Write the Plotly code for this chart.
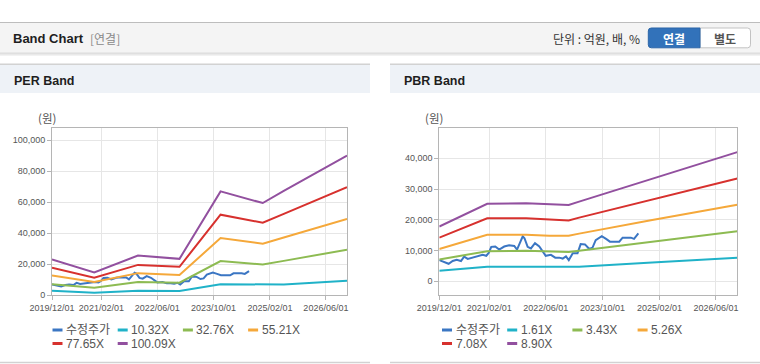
import plotly.graph_objects as go

W, H = 760, 364

# ---------------- data ----------------
price_name = "수정주가"
price_dates = [
    "2019-12-01", "2020-01-13", "2020-02-19", "2020-03-25", "2020-04-28", "2020-06-04",
    "2020-07-01", "2020-08-01", "2020-09-13", "2020-10-25", "2020-12-07", "2021-01-07",
    "2021-01-28", "2021-02-19", "2021-03-25", "2021-04-28", "2021-06-10", "2021-07-22",
    "2021-09-04", "2021-09-28", "2021-10-22", "2021-11-16", "2021-12-01", "2021-12-28",
    "2022-01-25", "2022-03-01", "2022-04-07", "2022-05-04", "2022-06-01", "2022-07-16",
    "2022-08-22", "2022-09-25", "2022-10-25", "2022-11-22", "2022-12-16", "2023-01-19",
    "2023-03-01", "2023-03-28", "2023-05-04", "2023-06-10", "2023-07-07", "2023-08-04",
    "2023-09-25", "2023-11-01", "2023-12-04", "2024-02-22", "2024-03-22", "2024-06-01",
    "2024-06-28", "2024-08-04",
]
price_values = [
    6900, 6200, 5700, 6600, 7000, 6600,
    8000, 7300, 7700, 8100, 8600, 8300,
    9200, 11200, 11300, 10300, 11300, 11700,
    11500, 10300, 12400, 14600, 14000, 11200,
    10700, 12400, 11300, 9900, 8300, 8600,
    7700, 7700, 7400, 8100, 6900, 9100,
    9100, 12100, 12000, 10500, 10900, 13400,
    14700, 13800, 12900, 12900, 14200, 14200,
    13800, 15600,
]

per_names = ["10.32X", "32.76X", "55.21X", "77.65X", "100.09X"]
per_dates = ["2019-12-01", "2020-12-01", "2021-12-15", "2022-12-10",
             "2023-12-01", "2024-12-01", "2025-06-01", "2026-12-01"]
per_10 = [3000, 1700, 2900, 2800, 7100, 6800, 7000, 9400]
per_32 = [7100, 4900, 8600, 8100, 22100, 19800, 22200, 29400]
per_55 = [12700, 8600, 14300, 13100, 36900, 33300, 37300, 49300]
per_77 = [17800, 11300, 19600, 18400, 52000, 46800, 52500, 69700]
per_100 = [23100, 14700, 25600, 23500, 67000, 59500, 67300, 90100]

pbr_names = ["1.61X", "3.43X", "5.26X", "7.08X", "8.90X"]
pbr_dates = ["2019-12-01", "2021-01-15", "2021-12-15", "2022-07-01",
             "2022-12-15", "2023-03-15", "2024-12-01", "2026-12-01"]
pbr_161 = [3400, 4700, 4700, 4700, 4700, 4750, 6100, 7700]
pbr_343 = [7100, 9800, 9900, 9600, 9500, 9900, 12800, 16300]
pbr_526 = [10500, 15100, 15100, 14800, 14800, 15500, 19900, 24900]
pbr_708 = [14200, 20500, 20500, 20100, 19800, 20700, 26600, 33400]
pbr_890 = [17800, 25200, 25400, 25000, 24800, 25900, 33300, 42000]

x_tickvals = ["2019-12-01", "2021-02-01", "2022-06-01", "2023-10-01", "2025-02-01", "2026-06-01"]
x_ticktext = ["2019/12/01", "2021/02/01", "2022/06/01", "2023/10/01", "2025/02/01", "2026/06/01"]
per_yticks = [0, 20000, 40000, 60000, 80000, 100000]
pbr_yticks = [0, 10000, 20000, 30000, 40000]

# ---------------- styles ----------------
price_color = "#3b76c3"
band_colors = ["#20b2c8", "#8dbb52", "#f5a83a", "#d7312e", "#92509f"]
LAT = "Liberation Sans, Noto Sans CJK KR, sans-serif"
KR = "Noto Sans CJK KR, Liberation Sans, sans-serif"


def fx(p):
    return p / W


def fy(p):
    return 1 - p / H


fig = go.Figure()

# PER chart
fig.add_trace(go.Scatter(x=price_dates, y=price_values, name=price_name, mode="lines",
                         line=dict(color=price_color, width=2), showlegend=False,
                         xaxis="x", yaxis="y"))
for nm, vals, col in zip(per_names, [per_10, per_32, per_55, per_77, per_100], band_colors):
    fig.add_trace(go.Scatter(x=per_dates, y=vals, name=nm, mode="lines",
                             line=dict(color=col, width=2), showlegend=False,
                             xaxis="x", yaxis="y"))

# PBR chart
fig.add_trace(go.Scatter(x=price_dates, y=price_values, name=price_name, mode="lines",
                         line=dict(color=price_color, width=2), showlegend=False,
                         xaxis="x2", yaxis="y2"))
for nm, vals, col in zip(pbr_names, [pbr_161, pbr_343, pbr_526, pbr_708, pbr_890], band_colors):
    fig.add_trace(go.Scatter(x=pbr_dates, y=vals, name=nm, mode="lines",
                             line=dict(color=col, width=2), showlegend=False,
                             xaxis="x2", yaxis="y2"))

axis_common = dict(showgrid=True, gridcolor="#e6e6e6", gridwidth=1,
                   showline=True, linecolor="#b5b5b5", linewidth=1, mirror=True,
                   ticks="outside", ticklen=4, tickcolor="#b5b5b5",
                   tickfont=dict(family=LAT, size=9, color="#555555"),
                   zeroline=False, fixedrange=True)

xaxis_common = dict(type="date", range=["2019-12-01", "2026-12-01"],
                    tickmode="array", tickvals=x_tickvals, ticktext=x_ticktext,
                    **axis_common)

plot_top, plot_bot = 128.3, 295.3

fig.update_layout(
    width=W, height=H,
    margin=dict(l=0, r=0, t=0, b=0, autoexpand=False),
    paper_bgcolor="white", plot_bgcolor="white",
    showlegend=False,
    xaxis=dict(domain=[fx(52), fx(347)], anchor="y", **xaxis_common),
    yaxis=dict(domain=[fy(plot_bot), fy(plot_top)], anchor="x", range=[0, 107700],
               tickmode="array", tickvals=per_yticks, tickformat=",", **axis_common),
    xaxis2=dict(domain=[fx(439.3), fx(737.3)], anchor="y2", **xaxis_common),
    yaxis2=dict(domain=[fy(plot_bot), fy(plot_top)], anchor="x2", range=[-4550, 49750],
                tickmode="array", tickvals=pbr_yticks, tickformat=",", **axis_common),
)

shapes = []
annotations = []


def rect(x0, y0, x1, y1, fill, line_color=None, lw=0, layer="below"):
    shapes.append(dict(type="rect", xref="paper", yref="paper",
                       x0=fx(x0), x1=fx(x1), y0=fy(y1), y1=fy(y0),
                       fillcolor=fill, line=dict(color=line_color or fill, width=lw),
                       layer=layer))


def hline(x0, x1, y, color, width=1):
    shapes.append(dict(type="line", xref="paper", yref="paper",
                       x0=fx(x0), x1=fx(x1), y0=fy(y), y1=fy(y),
                       line=dict(color=color, width=width), layer="below"))


def rounded_path(x0, y0, x1, y1, r, left=True, right=True):
    def P(x, y):
        return f"{fx(x):.6f},{fy(y):.6f}"
    d = []
    if left:
        d.append("M" + P(x0, y0 + r))
        d.append("Q" + P(x0, y0) + " " + P(x0 + r, y0))
    else:
        d.append("M" + P(x0, y0))
    if right:
        d.append("L" + P(x1 - r, y0))
        d.append("Q" + P(x1, y0) + " " + P(x1, y0 + r))
        d.append("L" + P(x1, y1 - r))
        d.append("Q" + P(x1, y1) + " " + P(x1 - r, y1))
    else:
        d.append("L" + P(x1, y0))
        d.append("L" + P(x1, y1))
    if left:
        d.append("L" + P(x0 + r, y1))
        d.append("Q" + P(x0, y1) + " " + P(x0, y1 - r))
    else:
        d.append("L" + P(x0, y1))
    d.append("Z")
    return " ".join(d)


def text(x, y, s, size=12, color="#333", family=LAT, xanchor="left", bold=False):
    if bold:
        s = "<b>" + s + "</b>"
    annotations.append(dict(xref="paper", yref="paper", x=fx(x), y=fy(y), text=s,
                            showarrow=False, xanchor=xanchor, yanchor="middle",
                            font=dict(size=size, color=color, family=family)))


# top header bar
rect(0, 22.5, W, 53, "#f4f4f4")
hline(0, W, 22.5, "#bdbdbd", 1.2)
hline(0, W, 53.2, "#cfcfcf", 1)
hline(0, W, 54.3, "#e3e3e3", 1)
hline(0, W, 55.4, "#f1f1f1", 1)
text(11, 38.5, "Band Chart", size=13, color="#1e1e1e", bold=True)
text(88, 38.5, "[연결]", size=12, color="#8a8a8a", family=KR)
text(642, 38.5, "단위 : 억원, 배, %", size=12, color="#333333", family=KR, xanchor="right")

# buttons
shapes.append(dict(type="path", xref="paper", yref="paper",
                   path=rounded_path(700, 28, 750.5, 47.8, 3, left=False, right=True),
                   fillcolor="#ffffff", line=dict(color="#c2c2c2", width=1), layer="above"))
shapes.append(dict(type="path", xref="paper", yref="paper",
                   path=rounded_path(648.3, 28, 700, 47.8, 3, left=True, right=False),
                   fillcolor="#3272ba", line=dict(color="#2c66a8", width=1), layer="above"))
text(674, 38.3, "연결", size=12, color="#ffffff", family=KR, xanchor="center", bold=True)
text(725, 38.3, "별도", size=12, color="#555555", family=KR, xanchor="center", bold=True)

# panels
for (px0, px1, title) in [(0, 370, "PER Band"), (390, W, "PBR Band")]:
    rect(px0, 64.5, px1, 93, "#eef2f7")
    hline(px0, px1, 64.2, "#d2d2d2", 1.5)
    hline(px0, px1, 362.6, "#d2d2d2", 1.5)
    text(px0 + 11.5, 80.5, title, size=12.5, color="#1e1e1e", bold=True)

# "(원)" unit labels
text(47, 118.3, "(원)", size=11.5, color="#555555", family=KR, xanchor="center")
text(434, 118.3, "(원)", size=11.5, color="#555555", family=KR, xanchor="center")

# legends
legend_sets = [
    (52.5, [price_name] + per_names),
    (442.0, [price_name] + pbr_names),
]
legend_colors = [price_color] + band_colors
pitch = 65.2
rows_y = [330.0, 343.5]
for x_start, names in legend_sets:
    for i, (nm, col) in enumerate(zip(names, legend_colors)):
        r, c = divmod(i, 4)
        x0 = x_start + c * pitch
        y = rows_y[r]
        shapes.append(dict(type="line", xref="paper", yref="paper",
                           x0=fx(x0), x1=fx(x0 + 10), y0=fy(y), y1=fy(y),
                           line=dict(color=col, width=3), layer="above"))
        text(x0 + 11.5, y, nm, size=12, color="#555555")

fig.update_layout(shapes=shapes, annotations=annotations)

fig.write_html("out.html", config={"displayModeBar": False},
               post_script="document.body.style.margin='0';document.body.style.overflow='hidden';")
